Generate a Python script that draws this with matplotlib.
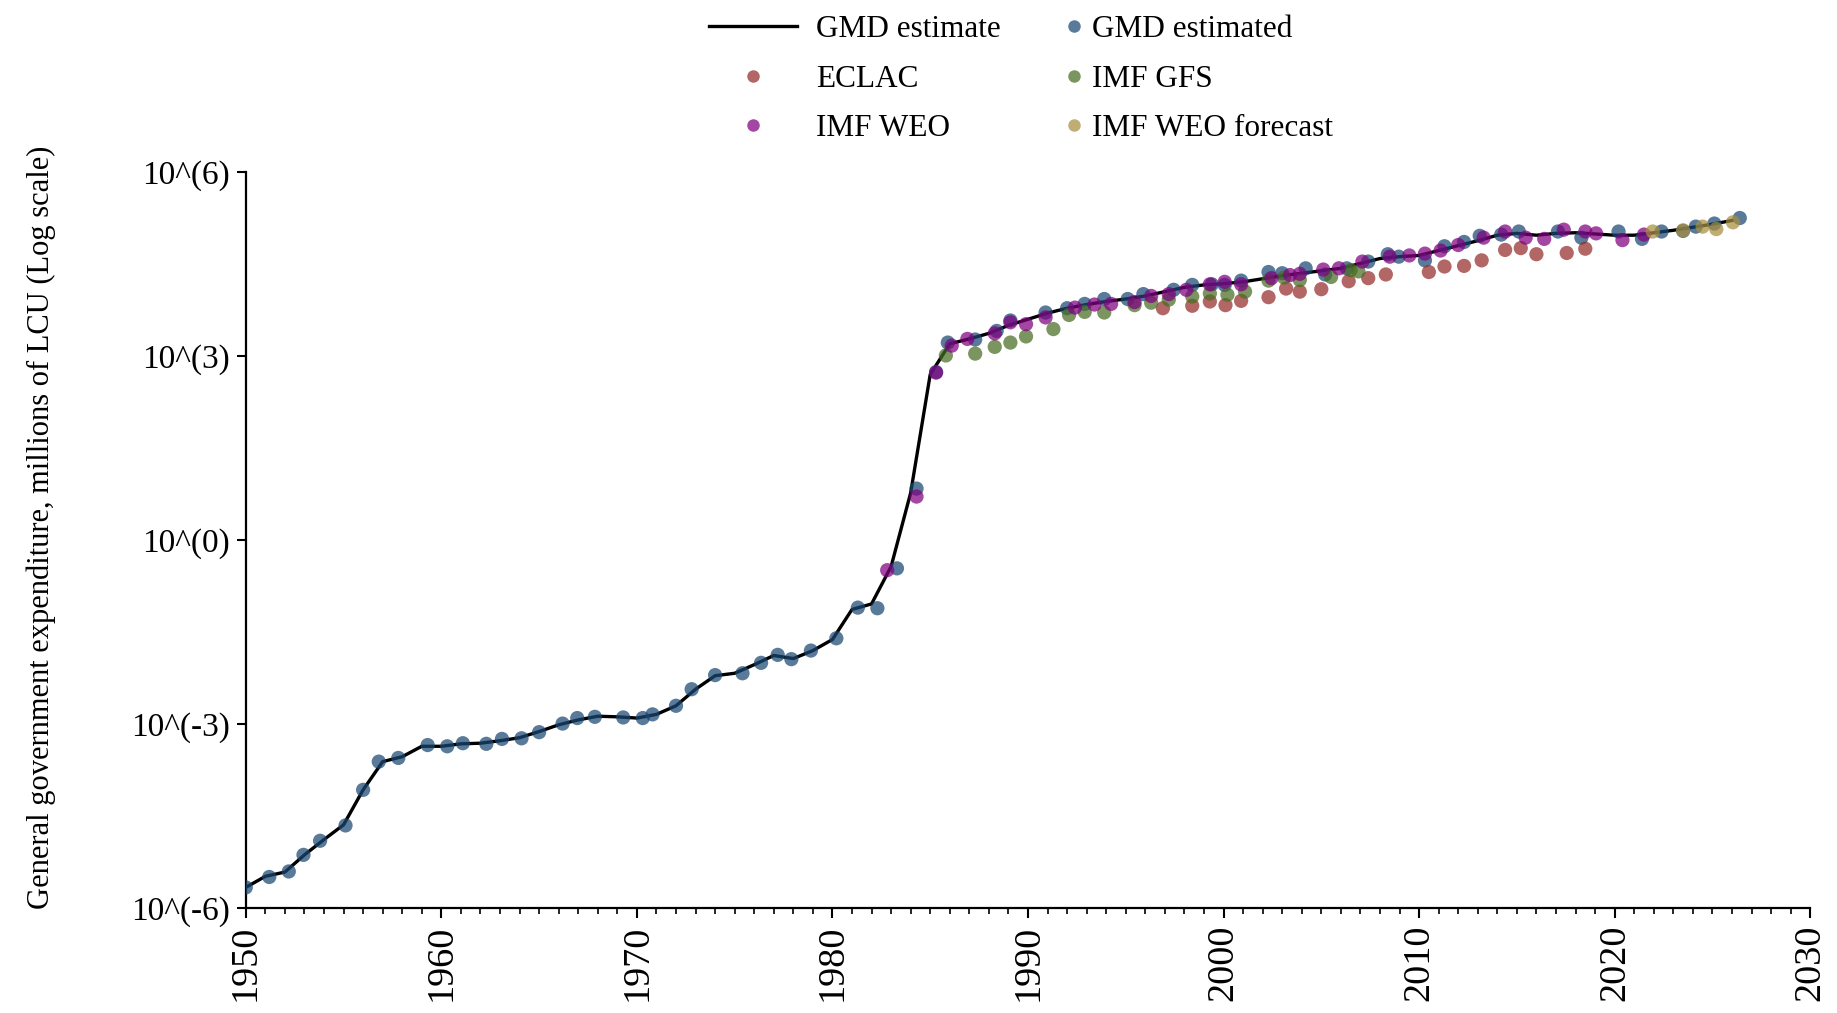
import numpy as np
import matplotlib
matplotlib.use("Agg")
import matplotlib.pyplot as plt
from matplotlib.lines import Line2D
from matplotlib.ticker import MultipleLocator, FixedLocator, NullLocator, FuncFormatter

plt.rcParams["font.family"] = ["Liberation Serif", "DejaVu Serif"]

# GMD estimate line (log10 of millions of LCU), one value per year
line_years = list(range(1950, 2027))
line_log = [-5.66, -5.48, -5.41, -5.13, -4.88, -4.64, -4.07, -3.61, -3.53, -3.36,
            -3.36, -3.32, -3.31, -3.27, -3.22, -3.12, -3.01, -2.93, -2.87, -2.88,
            -2.90, -2.84, -2.70, -2.43, -2.21, -2.17, -2.03, -1.88, -1.93, -1.80,
            -1.62, -1.13, -1.04, -0.43, 0.77, 2.70, 3.20, 3.28, 3.37, 3.50,
            3.60, 3.70, 3.78, 3.84, 3.89, 3.93, 3.98, 4.05, 4.12, 4.16,
            4.18, 4.21, 4.26, 4.31, 4.35, 4.39, 4.43, 4.51, 4.59, 4.62,
            4.64, 4.72, 4.80, 4.88, 4.97, 5.00, 4.97, 5.00, 5.01, 4.99,
            4.97, 4.97, 5.01, 5.05, 5.10, 5.15, 5.21]

# scatter sources (x positions, jittered around the year)
gmd_x = [1950.0, 1951.2, 1952.2, 1952.95, 1953.8, 1955.1, 1956.0, 1956.8, 1957.8, 1959.3,
         1960.3, 1961.1, 1962.3, 1963.1, 1964.1, 1965.0, 1966.2, 1966.95, 1967.85, 1969.3,
         1970.3, 1970.8, 1972.0, 1972.8, 1974.0, 1975.4, 1976.35, 1977.2, 1977.9, 1978.9,
         1980.2, 1981.3, 1982.3, 1983.3, 1984.3, 1985.3, 1985.9, 1987.3, 1988.4, 1989.1,
         1990.9, 1992.0, 1992.9, 1993.9, 1995.1, 1995.9, 1997.45, 1998.4, 1999.4, 2000.06,
         2000.9, 2002.3, 2003.0, 2004.2, 2005.2, 2006.3, 2007.4, 2008.4, 2008.96, 2010.3,
         2011.3, 2012.3, 2013.1, 2014.2, 2015.1, 2017.1, 2018.3, 2020.2, 2021.4, 2022.4,
         2023.5, 2024.15, 2025.1, 2026.4]
gmd_log = [-5.66, -5.49, -5.40, -5.13, -4.90, -4.65, -4.07, -3.61, -3.55, -3.34,
           -3.36, -3.31, -3.32, -3.24, -3.23, -3.13, -2.99, -2.90, -2.88, -2.89,
           -2.90, -2.84, -2.70, -2.43, -2.20, -2.17, -2.00, -1.87, -1.94, -1.80,
           -1.60, -1.10, -1.11, -0.46, 0.84, 2.74, 3.22, 3.27, 3.41, 3.58,
           3.71, 3.78, 3.85, 3.93, 3.93, 4.01, 4.08, 4.16, 4.17, 4.16,
           4.23, 4.37, 4.35, 4.43, 4.33, 4.43, 4.54, 4.66, 4.62, 4.56,
           4.79, 4.86, 4.96, 4.98, 5.03, 5.03, 4.93, 5.03, 4.91, 5.03,
           5.04, 5.11, 5.16, 5.25]

eclac_x = [1996.9, 1998.4, 1999.3, 2000.1, 2000.9, 2002.3, 2003.2, 2003.9, 2005.0, 2006.4,
           2007.4, 2008.3, 2010.5, 2011.3, 2012.3, 2013.2, 2014.4, 2015.2, 2016.0, 2017.55,
           2018.5]
eclac_log = [3.78, 3.82, 3.89, 3.83, 3.90, 3.96, 4.10, 4.05, 4.09, 4.22,
             4.27, 4.33, 4.37, 4.46, 4.47, 4.56, 4.73, 4.76, 4.66, 4.68,
             4.75]

gfs_x = [1985.8, 1987.3, 1988.3, 1989.1, 1989.9, 1991.3, 1992.1, 1992.9, 1993.9, 1995.45,
         1996.3, 1997.2, 1998.4, 1999.3, 2000.2, 2001.1, 2002.3, 2003.1, 2003.9, 2005.5,
         2006.5, 2006.9]
gfs_log = [3.01, 3.04, 3.15, 3.22, 3.32, 3.44, 3.67, 3.72, 3.71, 3.83,
           3.87, 3.92, 3.97, 4.02, 4.00, 4.05, 4.23, 4.28, 4.24, 4.29,
           4.40, 4.38]

weo_x = [1982.8, 1984.3, 1985.3, 1986.1, 1986.9, 1988.3, 1989.1, 1989.9, 1990.9, 1992.4,
         1993.4, 1994.25, 1995.45, 1996.3, 1997.2, 1998.1, 1999.3, 2000.06, 2000.9, 2002.45,
         2003.4, 2003.9, 2005.1, 2005.9, 2007.1, 2008.5, 2009.5, 2010.3, 2011.1, 2012.0,
         2013.3, 2014.4, 2015.45, 2016.4, 2017.4, 2018.5, 2019.05, 2020.4, 2021.5]
weo_log = [-0.49, 0.71, 2.73, 3.17, 3.28, 3.37, 3.55, 3.52, 3.63, 3.79,
           3.84, 3.85, 3.88, 3.98, 4.01, 4.08, 4.17, 4.21, 4.17, 4.27,
           4.32, 4.34, 4.41, 4.43, 4.54, 4.62, 4.64, 4.67, 4.72, 4.81,
           4.93, 5.03, 4.93, 4.91, 5.06, 5.03, 5.00, 4.89, 4.98]

fcst_x = [2021.95, 2023.5, 2024.5, 2025.2, 2026.05]
fcst_log = [5.03, 5.05, 5.11, 5.07, 5.18]

col_gmd = "#1b4773"
col_eclac = "#962b2b"
col_gfs = "#486c23"
col_weo = "#800080"
col_fcst = "#a88e3e"

fig = plt.figure(figsize=(18.37, 10.13), dpi=100)
ax = fig.add_axes([0.1338, 0.1034, 0.8516, 0.7268])

ax.plot(line_years, 10.0 ** np.array(line_log), color="black", lw=2.4, zorder=2)

pts = [(gmd_x, gmd_log, col_gmd), (eclac_x, eclac_log, col_eclac),
       (gfs_x, gfs_log, col_gfs), (weo_x, weo_log, col_weo),
       (fcst_x, fcst_log, col_fcst)]
for i, (xs, ys, c) in enumerate(pts):
    ax.scatter(xs, 10.0 ** np.array(ys), s=105, color=c, alpha=0.72,
               edgecolors="none", zorder=3 + i)

ax.set_yscale("log")
ax.set_ylim(1e-6, 1e6)
ax.set_xlim(1950, 2030)
ax.yaxis.set_major_locator(FixedLocator([1e-6, 1e-3, 1e0, 1e3, 1e6]))
ax.yaxis.set_minor_locator(NullLocator())
ax.yaxis.set_major_formatter(FuncFormatter(lambda v, p: "10^(%d)" % round(np.log10(v))))
ax.xaxis.set_major_locator(MultipleLocator(10))
ax.xaxis.set_minor_locator(MultipleLocator(1))

for s in ["top", "right"]:
    ax.spines[s].set_visible(False)
for s in ["left", "bottom"]:
    ax.spines[s].set_linewidth(1.6)

ax.tick_params(axis="y", which="major", length=6.5, width=1.5, pad=5, labelsize=24)
ax.tick_params(axis="x", which="major", length=7, width=1.5, pad=5, labelsize=27.5,
               labelrotation=90)
ax.tick_params(axis="x", which="minor", length=4, width=1.2)

ax.set_ylabel("General government expenditure, millions of LCU (Log scale)", fontsize=22)
ax.yaxis.set_label_coords(-0.121, 0.518)

# legend, two columns drawn as two legends
h_line = Line2D([], [], color="black", lw=2.4)
def dot(c):
    return Line2D([], [], ls="none", marker="o", markersize=9, color=c, alpha=0.72,
                  markeredgewidth=0)

leg1 = fig.legend([h_line, dot(col_eclac), dot(col_weo)], ["GMD estimate", "ECLAC", "IMF WEO"],
                  loc="upper left", bbox_to_anchor=(709 / 1837, 1 - 15 / 1013), frameon=False,
                  fontsize=22.5, handlelength=2.8, handletextpad=0.64, labelspacing=0.66,
                  borderpad=0, borderaxespad=0)
leg2 = fig.legend([dot(col_gmd), dot(col_gfs), dot(col_fcst)],
                  ["GMD estimated", "IMF GFS", "IMF WEO forecast"],
                  loc="upper left", bbox_to_anchor=(1068 / 1837, 1 - 15 / 1013), frameon=False,
                  fontsize=22.5, handlelength=0.4, handletextpad=0.37, labelspacing=0.66,
                  borderpad=0, borderaxespad=0)

fig.savefig("out.png", dpi=100)
